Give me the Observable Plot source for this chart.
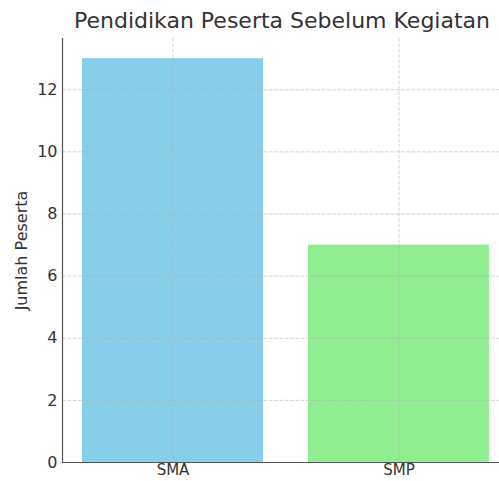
<!DOCTYPE html>
<html>
<head>
<meta charset="utf-8">
<script src="https://cdn.jsdelivr.net/npm/d3@7"></script>
<script src="https://cdn.jsdelivr.net/npm/@observablehq/plot@0.6"></script>
<style>
  html, body { margin: 0; padding: 0; background: #fff; }
  #wrap { width: 499px; height: 481px; overflow: hidden; position: relative; font-family: "DejaVu Sans", sans-serif; }
  #title { height: 38px; box-sizing: border-box; padding-top: 10px; line-height: 22px; font-size: 22px;
           margin-left: 58px; width: 448px; text-align: center; white-space: nowrap; color: #333; }
</style>
</head>
<body>
<div id="wrap">
  <div id="title">Pendidikan Peserta Sebelum Kegiatan</div>
  <div id="chart"></div>
</div>
<script>
const categories = ["SMA", "SMP"];
const counts = [13, 7];
const barColors = ["#87CEEB", "#90EE90"];
const yTicks = [0, 2, 4, 6, 8, 10, 12];
const yLabel = "Jumlah Peserta";

const data = categories.map((c, i) => ({category: c, count: counts[i]}));

const gridStyle = {stroke: "#b0b0b0", strokeOpacity: 0.7, strokeDasharray: "3.7,1.6", strokeWidth: 0.8};

const chart = Plot.plot({
  width: 499,
  height: 443,
  marginTop: 0,
  marginBottom: 19,
  marginLeft: 62,
  marginRight: -10.5,
  style: {fontFamily: "DejaVu Sans, sans-serif", fontSize: "16px", color: "#333", background: "#fff"},
  x: {type: "band", domain: categories, paddingInner: 0.2, paddingOuter: 0.09, align: 0.5},
  y: {domain: [0, 13.65]},
  color: {domain: categories, range: barColors},
  marks: [
    Plot.barY(data, {x: "category", y: "count", fill: "category"}),
    Plot.gridY(yTicks, gridStyle),
    Plot.gridX(categories, gridStyle),
    Plot.axisY({ticks: yTicks, tickSize: 0, tickPadding: 5, label: yLabel, labelAnchor: "center", labelArrow: "none", labelOffset: 47, fontSize: 16}),
    Plot.axisX({tickSize: 0, tickPadding: 2, label: null, fontSize: 15}),
    Plot.ruleY([0], {stroke: "#555", strokeWidth: 1.2}),
    Plot.frame({anchor: "left", stroke: "#555", strokeWidth: 1.2})
  ]
});
document.getElementById("chart").appendChild(chart);
</script>
</body>
</html>
